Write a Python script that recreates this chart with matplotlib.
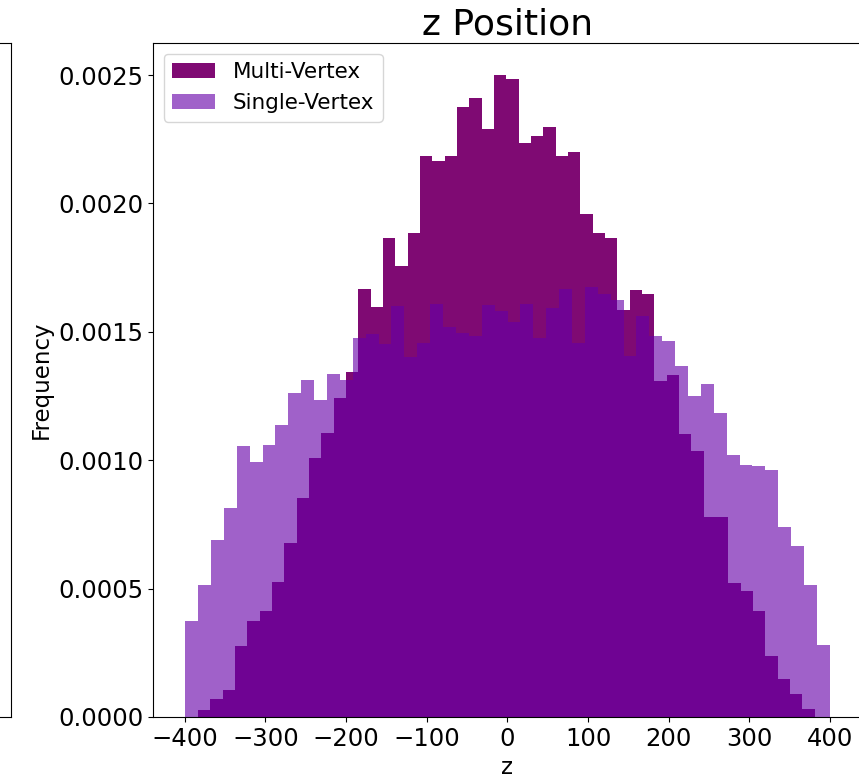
import numpy as np
import matplotlib
matplotlib.use("Agg")
import matplotlib.pyplot as plt

# Normalised z-position histograms (density per bin), 50 bins each
multi_density = [
    0.000026, 0.000069, 0.000104, 0.000278, 0.000374, 0.000414, 0.000525, 0.000679, 0.000853, 0.001007,
    0.001107, 0.001242, 0.001345, 0.001668, 0.001597, 0.001867, 0.001756, 0.001886, 0.002184, 0.002164,
    0.002184, 0.002374, 0.002412, 0.002292, 0.002500, 0.002484, 0.002235, 0.002261, 0.002297, 0.002184,
    0.002200, 0.001959, 0.001886, 0.001865, 0.001584, 0.001663, 0.001649, 0.001307, 0.001331, 0.001104,
    0.001037, 0.000780, 0.000778, 0.000523, 0.000489, 0.000413, 0.000238, 0.000147, 0.000088, 0.000030,
]
single_density = [
    0.000374, 0.000516, 0.000688, 0.000814, 0.001055, 0.000993, 0.001061, 0.001139, 0.001263, 0.001311,
    0.001236, 0.001336, 0.001311, 0.001476, 0.001493, 0.001452, 0.001600, 0.001402, 0.001455, 0.001610,
    0.001519, 0.001495, 0.001482, 0.001606, 0.001581, 0.001538, 0.001610, 0.001476, 0.001593, 0.001668,
    0.001456, 0.001673, 0.001649, 0.001625, 0.001405, 0.001563, 0.001485, 0.001464, 0.001368, 0.001249,
    0.001296, 0.001184, 0.001022, 0.000983, 0.000977, 0.000963, 0.000740, 0.000665, 0.000516, 0.000282,
]
multi_range = (-383.5, 381.2)
single_range = (-399.5, 399.8)
n_bins = 50

multi_edges = np.linspace(multi_range[0], multi_range[1], n_bins + 1)
single_edges = np.linspace(single_range[0], single_range[1], n_bins + 1)

W, H = 859, 779
fig = plt.figure(figsize=(W / 100, H / 100), dpi=100)

# neighbouring panel (only its right edge falls inside the canvas)
ax_prev = fig.add_axes([-0.6, 62 / H, 0.6 + 11 / W, (717 - 43) / H])
ax_prev.set_xticks([])
ax_prev.set_yticks([])

ax = fig.add_axes([153 / W, 62 / H, (862 - 153) / W, (717 - 43) / H])

ax.hist((multi_edges[:-1] + multi_edges[1:]) / 2, bins=multi_edges, weights=multi_density,
        color="#7f0a73", label="Multi-Vertex")
ax.hist((single_edges[:-1] + single_edges[1:]) / 2, bins=single_edges, weights=single_density,
        color="#6600a8", alpha=0.62, label="Single-Vertex")

ax.set_title("z Position", fontsize=26)
ax.set_xlabel("z", fontsize=16.5)
ax.set_ylabel("Frequency", fontsize=16.5)
ax.tick_params(labelsize=17.5)
ax.set_xticks([-400, -300, -200, -100, 0, 100, 200, 300, 400])
ax.legend(loc="upper left", fontsize=15.5)

fig.savefig("out.png", dpi=100)
